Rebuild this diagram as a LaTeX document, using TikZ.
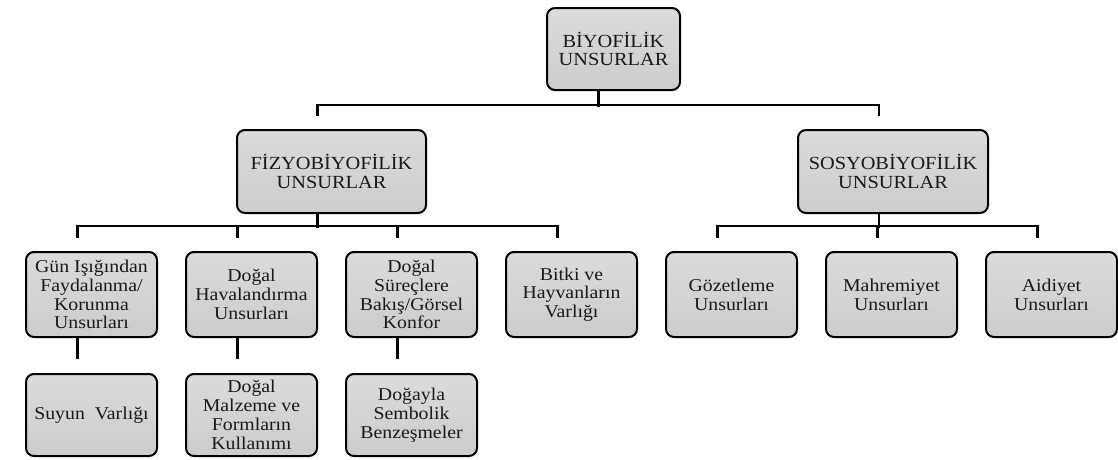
\documentclass[tikz,border=0pt]{standalone}
\usepackage{fontspec}
\setmainfont{Liberation Serif}[FakeStretch=1.1]
\usetikzlibrary{calc}
\tikzset{
  box/.style={draw=black, line width=2pt, rounded corners=8pt,
    top color=black!14, bottom color=black!20,
    minimum width=131pt, minimum height=85pt, inner sep=1pt,
    align=center, font=\fontsize{18}{18.8}\selectfont, text=black!90},
  headbox/.style={box, font=\fontsize{18.5}{18.5}\selectfont},
  conn/.style={draw=black, line width=2.2pt},
}
\begin{document}
\begin{tikzpicture}[x=1pt,y=-1pt]
\useasboundingbox (0,0) rectangle (1118,459);
% level 1
\node[headbox, minimum width=133pt, minimum height=82pt] (top) at (613.5,49) {BİYOFİLİK\\UNSURLAR};
% level 2
\node[headbox, minimum width=189pt, minimum height=83pt] (fiz) at (331.5,171.5) {FİZYOBİYOFİLİK\\UNSURLAR};
\node[headbox, minimum width=190pt, minimum height=83pt] (sos) at (893,171.5) {SOSYOBİYOFİLİK\\UNSURLAR};
% level 3
\node[box] (b1) at (91.5,294.5) {Gün Işığından\\Faydalanma/\\Korunma\\Unsurları};
\node[box] (b2) at (251.5,294.5) {Doğal\\Havalandırma\\Unsurları};
\node[box] (b3) at (411.5,294.5) {Doğal\\Süreçlere\\Bakış/Görsel\\Konfor};
\node[box] (b4) at (571.5,294.5) {Bitki ve\\Hayvanların\\Varlığı};
\node[box] (g1) at (731.5,294.5) {Gözetleme\\Unsurları};
\node[box] (g2) at (891.5,294.5) {Mahremiyet\\Unsurları};
\node[box] (g3) at (1051.5,294.5) {Aidiyet\\Unsurları};
% level 4
\node[box, minimum height=82pt] (c1) at (91.5,415) {Suyun \ Varlığı};
\node[box, minimum height=82pt] (c2) at (251.5,415) {Doğal\\Malzeme ve\\Formların\\Kullanımı};
\node[box, minimum height=82pt] (c3) at (411.5,415) {Doğayla\\Sembolik\\Benzeşmeler};
% connector anchor points
\coordinate (topb) at ([xshift=-15pt]top.south);
\coordinate (fizt) at ([xshift=-14pt]fiz.north);
\coordinate (sost) at ([xshift=-14pt]sos.north);
\coordinate (fizb) at ([xshift=-14pt]fiz.south);
\coordinate (sosb) at ([xshift=-14pt]sos.south);
\foreach \n in {b1,b2,b3,b4,g1,g2,g3}{
  \coordinate (\n t) at ([xshift=-14pt]\n.north);
}
\foreach \n in {b1,b2,b3}{
  \coordinate (\n b) at ([xshift=-14pt]\n.south);
}
% level 1 -> 2
\draw[conn] (topb) -- ($(topb)+(0,16)$);
\draw[conn] ($(fizt)+(0,-13)$) -- ($(fizt)+(0,-24)$) -| ($(sost)+(0,-13)$);
% fizyo -> children
\draw[conn] (fizb) -- ($(fizb)+(0,14)$);
\draw[conn] ($(b1t)+(0,-13)$) -- ($(b1t)+(0,-25)$) -| ($(b4t)+(0,-13)$);
\draw[conn] ($(b2t)+(0,-13)$) -- ($(b2t)+(0,-25)$);
\draw[conn] ($(b3t)+(0,-13)$) -- ($(b3t)+(0,-25)$);
% sosyo -> children
\draw[conn] (sosb) -- ($(sosb)+(0,14)$);
\draw[conn] ($(g1t)+(0,-13)$) -- ($(g1t)+(0,-25)$) -| ($(g3t)+(0,-13)$);
\draw[conn] ($(g2t)+(0,-13)$) -- ($(g2t)+(0,-25)$);
% level 3 -> 4
\draw[conn] (b1b) -- ($(b1b)+(0,21)$);
\draw[conn] (b2b) -- ($(b2b)+(0,21)$);
\draw[conn] (b3b) -- ($(b3b)+(0,21)$);
\end{tikzpicture}
\end{document}
